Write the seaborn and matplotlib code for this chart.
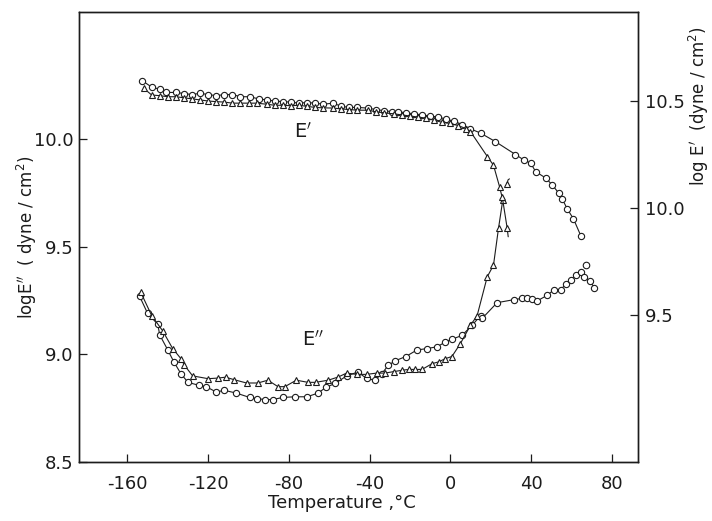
import matplotlib
matplotlib.use("Agg")
import matplotlib.pyplot as plt
import seaborn as sns
import numpy as np

# ---- data ----
# E'' (loss modulus), left axis, circles
t_loss_c = [-154, -150, -145, -144, -140, -137, -133.5, -130, -124.5, -121, -116, -112, -106, -99.5,
            -96, -92, -88, -83, -77, -71, -65.6, -61.4, -57, -51.4, -45.8, -41.5, -37.3, -34, -30.7,
            -27.4, -22, -16.6, -11.6, -6.6, -2.5, 0.8, 5.8, 10.8, 15, 15.8, 23.2, 31.5, 35.7, 38, 40.6,
            43, 48, 51.4, 54.7, 57.2, 59.7, 62.2, 64.7, 66.3, 69.3, 71.3]
v_loss_c = [9.27, 9.19, 9.14, 9.09, 9.02, 8.965, 8.91, 8.87, 8.856, 8.85, 8.825, 8.833, 8.82, 8.80,
            8.795, 8.79, 8.79, 8.80, 8.803, 8.803, 8.82, 8.848, 8.865, 8.90, 8.918, 8.888, 8.88, 8.91,
            8.949, 8.97, 8.99, 9.02, 9.027, 9.035, 9.057, 9.07, 9.088, 9.135, 9.18, 9.167, 9.24, 9.254,
            9.26, 9.26, 9.256, 9.248, 9.274, 9.30, 9.30, 9.326, 9.347, 9.367, 9.383, 9.36, 9.34, 9.31]
t_loss_c_extra = [67.2]
v_loss_c_extra = [9.414]

# E'' triangles
t_loss_t = [-153.5, -148, -142.6, -137.6, -133.5, -131.8, -127.7, -120, -115, -111.4, -107, -101,
            -95.4, -90.4, -85.4, -82, -76.3, -70.5, -66.8, -60.5, -55.5, -51.4, -46.4, -41.5, -36.5,
            -32.3, -28, -24, -20.7, -17.4, -14, -9, -5.8, -2.5, 0.8, 5, 10, 13.3, 18.3, 21.4, 23.9, 26]
v_loss_t = [9.29, 9.18, 9.11, 9.027, 8.98, 8.95, 8.90, 8.887, 8.89, 8.894, 8.882, 8.867, 8.867,
            8.88, 8.85, 8.85, 8.88, 8.87, 8.87, 8.88, 8.895, 8.913, 8.907, 8.907, 8.913, 8.913, 8.92,
            8.926, 8.93, 8.93, 8.93, 8.957, 8.965, 8.98, 8.99, 9.05, 9.135, 9.18, 9.36, 9.414, 9.586, 9.716]
t_loss_t_branch = [26, 28.2, 28.7]
v_loss_t_branch = [9.716, 9.585, 9.546]
t_loss_t_hook = [28.0, 28.6, 29.3]
v_loss_t_hook = [9.79, 9.81, 9.815]

# E' (storage modulus), right axis, circles
t_stor_c = [-152.7, -148, -144, -141, -136, -132, -128, -124, -120, -116, -112, -108, -104, -99.5,
            -95, -91, -87, -83, -79, -75, -71, -67, -63, -58, -54, -50, -46, -41, -37, -33, -29, -26,
            -22, -18, -14, -10, -6, -2, 2, 6, 10, 15, 22.4, 32.3, 36.5, 39.8, 42.3, 47.3, 50.6, 53.7,
            55.6, 58, 61, 64.7]
v_stor_c = [10.595, 10.565, 10.555, 10.54, 10.54, 10.535, 10.53, 10.536, 10.53, 10.525, 10.53, 10.53,
            10.52, 10.52, 10.51, 10.505, 10.50, 10.497, 10.495, 10.49, 10.493, 10.49, 10.485, 10.49,
            10.475, 10.47, 10.47, 10.467, 10.46, 10.455, 10.45, 10.45, 10.445, 10.44, 10.435, 10.43,
            10.425, 10.415, 10.405, 10.39, 10.37, 10.35, 10.31, 10.25, 10.224, 10.21, 10.17, 10.14,
            10.107, 10.07, 10.04, 9.995, 9.95, 9.87]

# E' triangles
t_stor_t = [-152, -148, -144, -140, -136, -132, -128, -124, -120, -116, -112, -108, -104, -100, -96,
            -91, -87, -83, -79, -75, -71, -67, -63, -58, -54, -50, -46, -41, -37, -33, -28, -24, -20,
            -16, -12, -8, -4, 0, 4, 8, 10, 18.4, 21.4, 24.4, 25.7]
v_stor_t = [10.56, 10.528, 10.525, 10.52, 10.52, 10.515, 10.51, 10.505, 10.50, 10.497, 10.495, 10.49,
            10.49, 10.49, 10.49, 10.485, 10.48, 10.48, 10.478, 10.48, 10.475, 10.47, 10.468, 10.467,
            10.463, 10.46, 10.457, 10.457, 10.45, 10.445, 10.44, 10.435, 10.43, 10.425, 10.42, 10.41,
            10.40, 10.395, 10.385, 10.37, 10.357, 10.24, 10.20, 10.10, 10.05]

x_ticks = [-160, -120, -80, -40, 0, 40, 80]
left_ticks = [8.5, 9.0, 9.5, 10.0]
right_ticks = [9.5, 10.0, 10.5]

# ---- style ----
sns.set_style("white")
plt.rcParams['font.family'] = ['DejaVu Sans']
plt.rcParams['axes.unicode_minus'] = False

INK = "#1c1c1c"
fig = plt.figure(figsize=(7.12, 5.21), dpi=100)
ax = fig.add_axes([0.111, 0.1132, 0.785, 0.8638])
ax2 = ax.twinx()

line_kw = dict(color=INK, lw=0.8, markerfacecolor="white", markeredgecolor=INK,
               markeredgewidth=0.8, markersize=4.5, sort=False, legend=False)

# E'' curves (left axis)
sns.lineplot(x=t_loss_c, y=v_loss_c, marker="o", ax=ax, **line_kw)
sns.lineplot(x=t_loss_t, y=v_loss_t, marker="^", ax=ax, **line_kw)
sns.lineplot(x=t_loss_t_branch, y=v_loss_t_branch, marker="^", markevery=[1], ax=ax, **line_kw)
sns.lineplot(x=t_loss_t_hook, y=v_loss_t_hook, marker="^", markevery=[0], ax=ax, **line_kw)
sns.scatterplot(x=t_loss_c_extra, y=v_loss_c_extra, marker="o", s=22, facecolor="white",
                edgecolor=INK, linewidth=0.8, ax=ax, legend=False, zorder=3)

# E' curves (right axis)
sns.lineplot(x=t_stor_c, y=v_stor_c, marker="o", ax=ax2, **line_kw)
sns.lineplot(x=t_stor_t, y=v_stor_t, marker="^", ax=ax2, **line_kw)

# ---- axes ----
ax.set_xlim(-184, 93)
ax.set_ylim(8.5, 10.59)
ax2.set_ylim(8.813, 10.916)

ax.set_xticks(x_ticks)
ax.set_xticklabels([str(v) for v in x_ticks])
ax.set_yticks(left_ticks)
ax.set_yticklabels([f"{v:.1f}" for v in left_ticks])
ax2.set_yticks(right_ticks)
ax2.set_yticklabels([f"{v:.1f}" for v in right_ticks])

for a in (ax, ax2):
    for s in a.spines.values():
        s.set_visible(True)
        s.set_color(INK)
        s.set_linewidth(1.0)

ax.tick_params(axis="x", direction="in", length=6, width=0.9, colors=INK,
               labelsize=13, pad=9, bottom=True, top=False)
ax.tick_params(axis="y", direction="in", length=6, width=0.9, colors=INK,
               labelsize=13, pad=4, left=True, right=False)
ax2.tick_params(axis="y", direction="in", length=6, width=0.9, colors=INK,
                labelsize=13, pad=5, right=True, left=False)

ax.set_xlabel("Temperature ,°C", fontsize=13, color=INK)
ax.xaxis.set_label_coords(0.47, -0.07)
ax.set_ylabel("logE$''$  ( dyne / cm$^2$)", fontsize=12, color=INK)
ax.yaxis.set_label_coords(-0.072, 0.5)
ax2.set_ylabel("log E$'$  (dyne / cm$^2$)", fontsize=12, color=INK)
ax2.yaxis.set_label_coords(1.087, 0.79)

ax.text(-73, 10.034, "E$'$", fontsize=14, color=INK, ha="center", va="center")
ax.text(-68, 9.07, "E$''$", fontsize=14, color=INK, ha="center", va="center")

ax.grid(False)
ax2.grid(False)

fig.savefig("out.png", dpi=100)
